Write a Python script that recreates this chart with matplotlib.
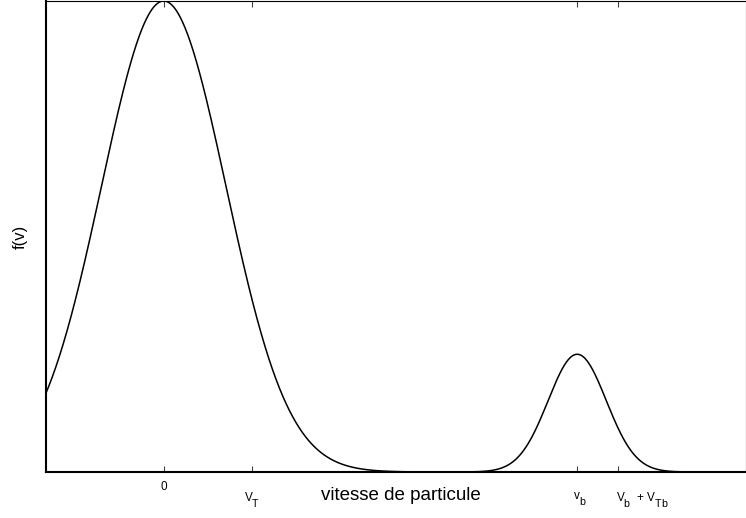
import numpy as np
import matplotlib
matplotlib.use("Agg")
import matplotlib.pyplot as plt
from matplotlib.transforms import ScaledTranslation
import matplotlib._mathtext as _mt

# MATLAB-TeX-like subscripts: nearly full size and dropped well below the baseline
_mt.SHRINK_FACTOR = 0.9
_const_classes = [_mt.FontConstantsBase] + list(_mt.FontConstantsBase.__subclasses__())
for _cls in _const_classes:
    _cls.sub1 = 0.95
    _cls.subdrop = 0.95

plt.rcParams['font.family'] = ['Liberation Sans', 'DejaVu Sans']
plt.rcParams['mathtext.fontset'] = 'custom'
plt.rcParams['mathtext.rm'] = 'Liberation Sans'
plt.rcParams['mathtext.it'] = 'Liberation Sans'
plt.rcParams['mathtext.default'] = 'regular'

# Two Maxwellian populations (bulk plasma + beam), parameters
pop_amplitude = [1.0, 0.25]
pop_center = [0.0, 4.694]
pop_thermal_speed = [1.0, 0.467]

v_limits = [-1.34, 6.616]
f_limits = [0.0, 1.0]

tick_values = [0.0, 1.0, 4.694, 5.161]
tick_labels = ['0', r'$V_T$', r'$v_b$', r'$V_b$  + $V_{Tb}$']

x_label = 'vitesse de particule'
y_label = 'f(v)'

W, H = 746, 518
fig = plt.figure(figsize=(W / 100, H / 100), dpi=100)
ax = fig.add_axes([45.7 / W, (H - 472) / H, (746.5 - 45.7) / W, (472 - 1) / H])

v = np.linspace(v_limits[0], v_limits[1], 2000)
f = np.zeros_like(v)
for a, c, s in zip(pop_amplitude, pop_center, pop_thermal_speed):
    f += a * np.exp(-((v - c) / s) ** 2)
ax.plot(v, f, color='black', lw=1.1)

ax.set_xlim(*v_limits)
ax.set_ylim(*f_limits)
ax.set_yticks([])
ax.set_xticks(tick_values)
ax.set_xticklabels(tick_labels, fontsize=8.5)
ax.tick_params(axis='x', direction='in', length=4.2, width=0.8, color='#444444',
               top=True, bottom=True, pad=6.2)

for sp in ['left', 'bottom']:
    ax.spines[sp].set_linewidth(1.5)
ax.spines['top'].set_linewidth(0.8)
ax.spines['right'].set_linewidth(0.8)

# MATLAB-like placement of the subscripted tick labels (offsets in pixels)
label_shift = {tick_labels[1]: ('center', 0.5, -9.5),
               tick_labels[2]: ('left', -4.0, -9.5),
               tick_labels[3]: ('left', -2.7, -9.5)}
for lbl, txt in zip(ax.get_xticklabels(), tick_labels):
    if txt in label_shift:
        ha, dx, dy = label_shift[txt]
        lbl.set_horizontalalignment(ha)
        lbl.set_transform(lbl.get_transform() +
                          ScaledTranslation(dx / 100, dy / 100, fig.dpi_scale_trans))

ax.set_xlabel(x_label, fontsize=13.5, va='top')
ax.xaxis.set_label_coords(0.507, -0.031)
ax.set_ylabel(y_label, fontsize=12, va='center', ha='center')
ax.yaxis.set_label_coords(-0.037, 0.5)

fig.savefig('out.png', dpi=100)
